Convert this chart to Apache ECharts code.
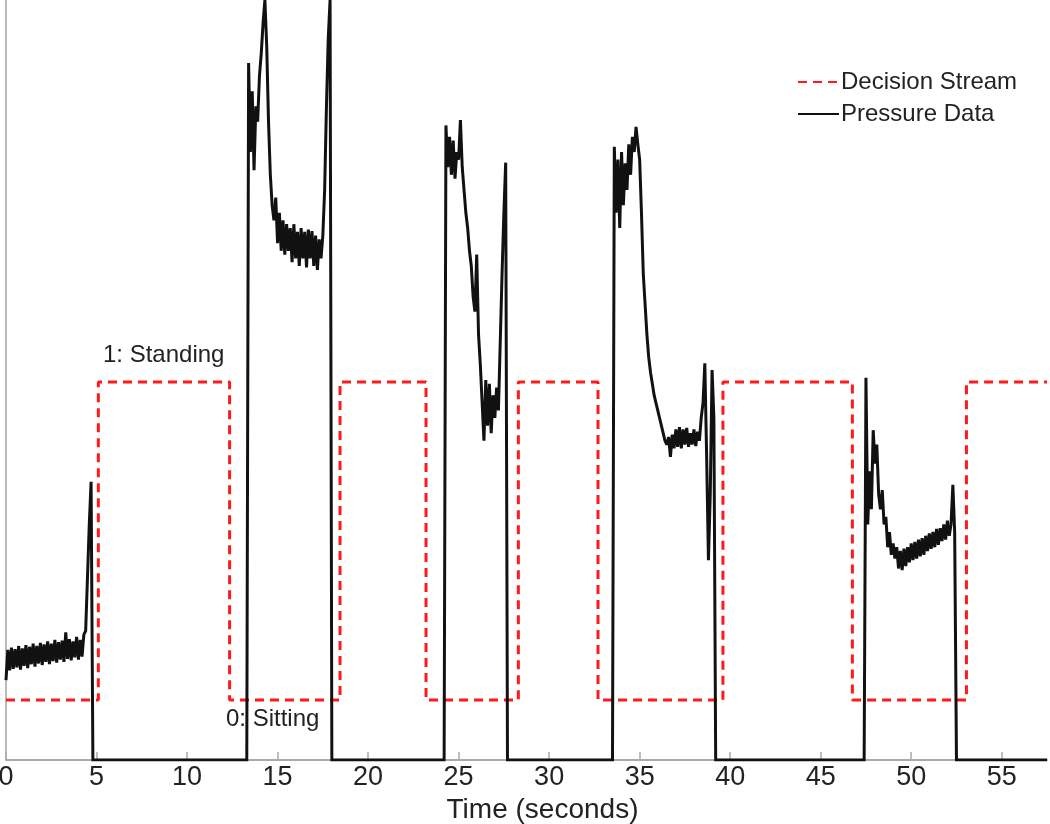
<!DOCTYPE html>
<html>
<head>
<meta charset="utf-8">
<script src="https://cdn.jsdelivr.net/npm/echarts@6/dist/echarts.min.js"></script>
<style>
html,body{margin:0;padding:0;background:#fff;}
#chart{width:1050px;height:824px;}
</style>
</head>
<body>
<div id="chart"></div>
<script>
// ---- data ----
const xTicks = [0, 5, 10, 15, 20, 25, 30, 35, 40, 45, 50, 55];
const timeMax = 57.5;

// Decision stream: transition times (s) and level held after each transition
const decisionTimes = [0, 5.1, 12.35, 18.45, 23.2, 28.3, 32.7, 39.6, 46.75, 53.05, 57.5];
const decisionLevels = [0, 1, 0, 1, 0, 1, 0, 1, 0, 1];

// Pressure data: segments sampled every 0.1 s, starting at given times (zero elsewhere)
const pressureStep = 0.1;
const pressureSegStarts = [0, 13.3, 24.2, 33.5, 47.4];
const pressureSegA = [10.5,14.5,11.8,14.8,12.0,14.6,12.2,15.0,11.9,14.7,12.4,15.1,12.1,14.9,12.6,15.3,12.3,15.0,12.7,15.4,12.5,15.2,12.9,15.6,12.6,15.3,13.0,15.8,12.8,15.5,13.2,15.7,12.9,16.8,13.3,15.9,13.1,15.6,13.5,16.2,13.2,15.8,13.6,16.5,17.0,24,31,36.6,0];
const pressureSegB = [0,91.7,80,88,77.6,86,84,90,93,97,100,94,84,77,73,71,74,68,72,67,71,66.5,70.5,67,70,65.5,70.5,66,69.5,65,70,66,69.5,64.8,69.8,66,69.6,65,69,64.5,68.5,66,69,75,86,95,100,0];
const pressureSegC = [0,83.5,78,82,77,81.5,76.5,80,79,84.2,78,75,72,70,67,65,61,59,66.5,56,52,47,42,50,44,49.5,43,48,45,49,46,55,64,72,78.6,0];
const pressureSegD = [0,80.7,72,79,70,80,73,78.5,75,81,77,82,80,83.3,81,79,72,64,60,56,53,51,49.5,48,47,46,45,44,43,42,41.5,42.5,39.9,42.8,41,43.5,41.2,43.8,41,43.5,41.5,43.7,41.2,43,41.5,43.5,41.3,43.2,42,45,47,52.2,40,26.3,35,51.3,45,0];
const pressureSegE = [0,50.3,31,38,33,43.4,39,41.5,35,33,35.5,31,32,28,30,27,28.5,26.5,28,25.2,27.5,25,27.8,25.5,28,26,28.5,26.3,28.7,26.5,29,26.8,29.2,27,29.5,27.5,29.8,27.8,30,28,30.4,28.3,30.5,28.8,31,29,31.5,29.5,31,36.2,30,0];

// ---- build series data ----
const decisionData = [];
for (let i = 0; i < decisionLevels.length; i++) {
  decisionData.push([decisionTimes[i], decisionLevels[i]]);
  decisionData.push([decisionTimes[i + 1], decisionLevels[i]]);
}
const segs = [pressureSegA, pressureSegB, pressureSegC, pressureSegD, pressureSegE];
const pressureData = [];
segs.forEach((seg, k) => {
  seg.forEach((v, i) => {
    pressureData.push([+(pressureSegStarts[k] + i * pressureStep).toFixed(2), v]);
  });
});
pressureData.push([timeMax, 0]);

const FONT = "'Liberation Sans', Arial, Helvetica, sans-serif";
const chart = echarts.init(document.getElementById('chart'));
chart.setOption({
  animation: false,
  backgroundColor: '#fff',
  grid: { left: 6, right: 3, top: 0, bottom: 64, outerBoundsMode: 'none', containLabel: false },
  legend: {
    orient: 'vertical', left: 792, top: 65,
    itemWidth: 41, itemHeight: 14, itemGap: 8,
    itemStyle: { opacity: 0 },
    textStyle: { fontSize: 24, color: '#222', fontFamily: FONT, lineHeight: 24, padding: [0, 0, 0, -3] },
    data: ['Decision Stream', 'Pressure Data']
  },
  xAxis: {
    type: 'value', min: 0, max: timeMax, interval: 5,
    name: 'Time (seconds)', nameLocation: 'middle', nameGap: 28,
    nameTextStyle: { fontSize: 28, color: '#222', fontFamily: FONT, padding: [0, 0, 0, 32] },
    axisLine: { lineStyle: { color: '#aaa', width: 2 } },
    axisTick: { inside: true, length: 8, lineStyle: { color: '#aaa', width: 1.5 }, customValues: xTicks },
    axisLabel: { fontSize: 27, color: '#222', fontFamily: FONT, margin: 4, customValues: xTicks },
    splitLine: { show: false }
  },
  yAxis: [
    { type: 'value', min: 0, max: 100,
      axisLine: { show: true, lineStyle: { color: '#bbb', width: 2 } },
      axisTick: { show: false }, axisLabel: { show: false }, splitLine: { show: false } },
    { type: 'value', min: -0.189, max: 2.201, show: false, splitLine: { show: false } }
  ],
  graphic: [
    { type: 'text', left: 103, top: 343, style: { text: '1: Standing', fontSize: 24, fill: '#222', fontFamily: FONT } },
    { type: 'text', left: 226, top: 707, style: { text: '0: Sitting', fontSize: 24, fill: '#222', fontFamily: FONT } }
  ],
  series: [
    { name: 'Decision Stream', type: 'line', yAxisIndex: 1, data: decisionData,
      symbol: 'none', lineStyle: { color: '#ff1a1a', width: 3, type: [9, 6] },
      itemStyle: { color: '#ff1a1a' } },
    { name: 'Pressure Data', type: 'line', yAxisIndex: 0, data: pressureData,
      symbol: 'none', lineStyle: { color: '#111', width: 3, join: 'miter', miterLimit: 2 },
      itemStyle: { color: '#111' } }
  ]
});
</script>
</body>
</html>
